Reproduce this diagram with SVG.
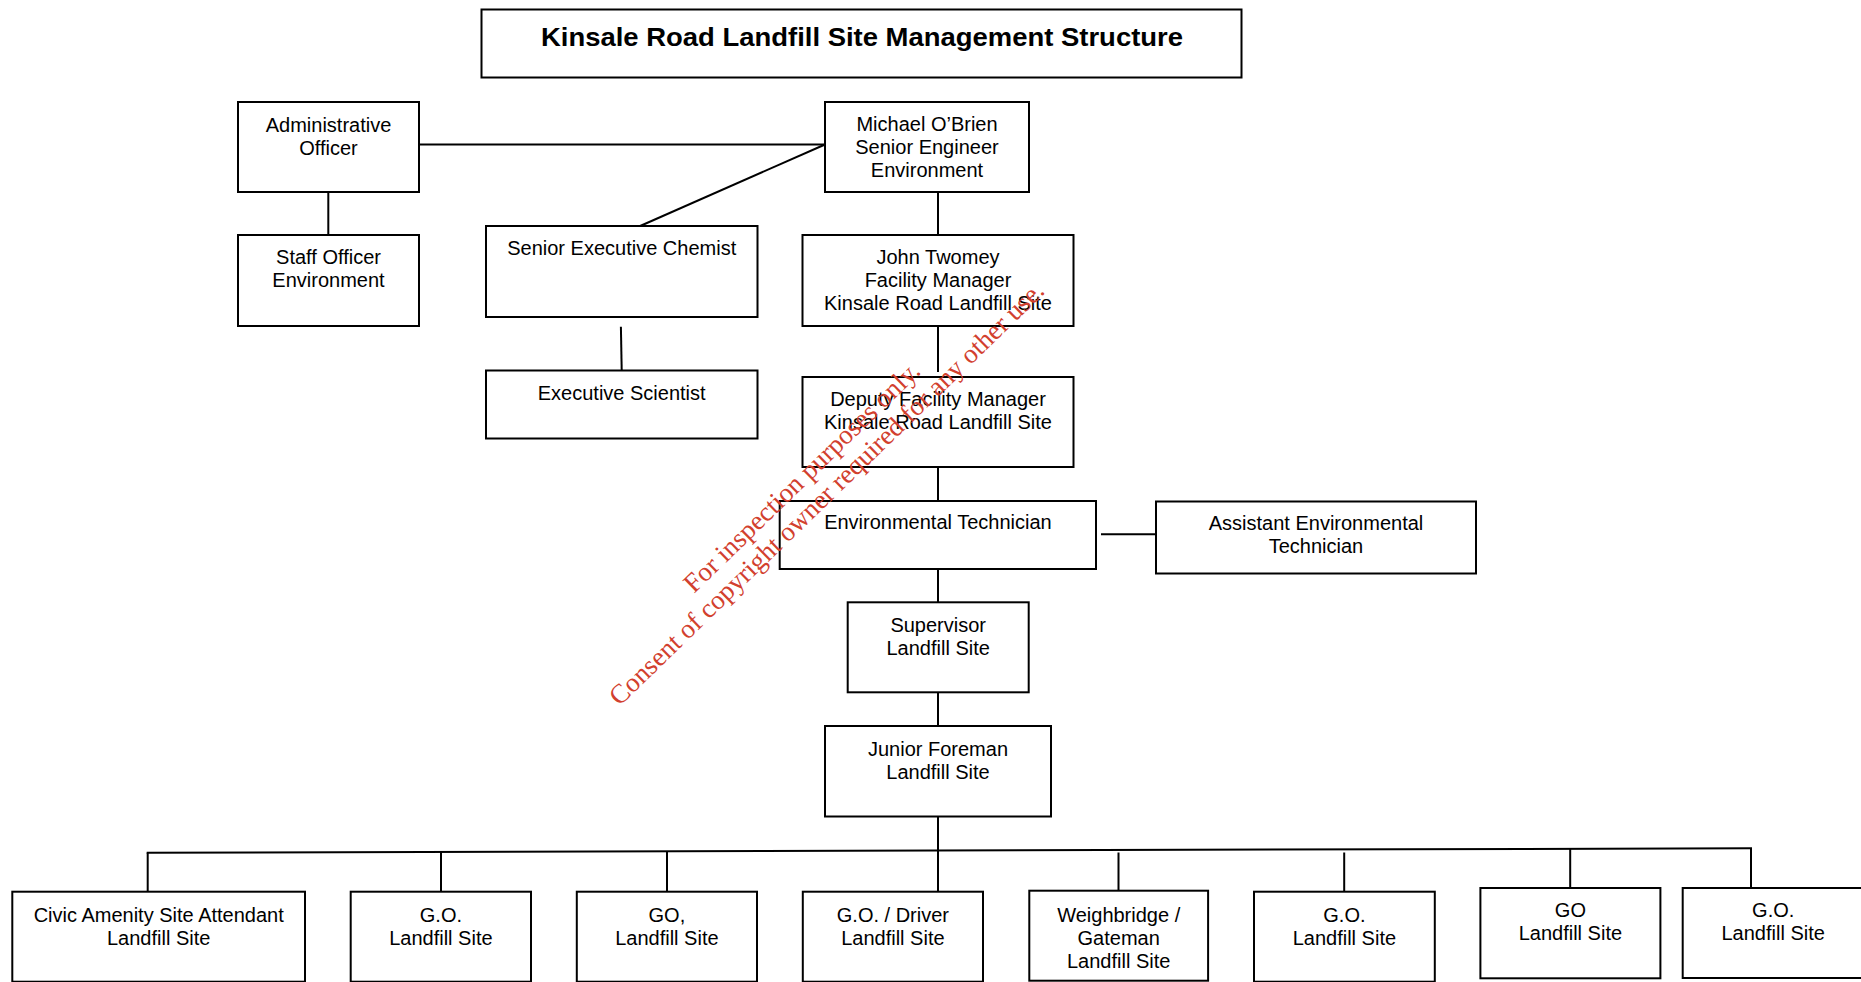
<svg xmlns="http://www.w3.org/2000/svg" width="1861" height="982" viewBox="0 0 1861 982">
<style>
.box{fill:#fff;stroke:#000;stroke-width:2}
.t{font-family:"Liberation Sans",Arial,sans-serif;font-size:20px;fill:#000;text-anchor:middle}
.title{font-family:"Liberation Sans",Arial,sans-serif;font-size:26px;font-weight:bold;fill:#000;text-anchor:middle}
.c line{stroke:#000;stroke-width:2}
.wm{font-family:"Liberation Serif","Times New Roman",serif;font-size:27px;fill:#d2402e}
</style>
<rect width="1861" height="982" fill="#fff"/>
<g id="title">
<rect class="box" x="481.5" y="9.5" width="760" height="68"/>
<text class="title" x="862" y="46" textLength="642" lengthAdjust="spacingAndGlyphs">Kinsale Road Landfill Site Management Structure</text>
</g>
<g class="c" id="connectors">
<line x1="419" y1="144.5" x2="825" y2="144.5"/>
<line x1="825" y1="144.5" x2="622" y2="234"/>
<line x1="328.3" y1="192" x2="328.3" y2="235"/>
<line x1="938" y1="192" x2="938" y2="240"/>
<line x1="620.9" y1="326.7" x2="621.7" y2="370.5"/>
<line x1="938" y1="326" x2="938" y2="372"/>
<line x1="938" y1="458.3" x2="938" y2="504"/>
<line x1="1101" y1="534.3" x2="1156" y2="534.3"/>
<line x1="938" y1="562.7" x2="938" y2="608.3"/>
<line x1="938" y1="686.7" x2="938" y2="731.7"/>
<line x1="938" y1="810.7" x2="938" y2="898.3"/>
<line x1="146.7" y1="852.7" x2="1752" y2="848.3"/>
<line x1="147.7" y1="852.7" x2="147.7" y2="898"/>
<line x1="441" y1="852" x2="441" y2="898.3"/>
<line x1="667" y1="851.5" x2="667" y2="898.3"/>
<line x1="1118.5" y1="852.5" x2="1118.5" y2="898.3"/>
<line x1="1344.2" y1="852.5" x2="1344.2" y2="898.3"/>
<line x1="1570.2" y1="849" x2="1570.2" y2="894"/>
<line x1="1751" y1="848.3" x2="1751" y2="894"/>
</g>
<g id="admin">
<rect class="box" x="238" y="102" width="181" height="90"/>
<text class="t" x="328.5" y="131.5">Administrative</text>
<text class="t" x="328.5" y="154.5">Officer</text>
</g>
<g id="staff">
<rect class="box" x="238" y="235" width="181" height="91"/>
<text class="t" x="328.5" y="263.5">Staff Officer</text>
<text class="t" x="328.5" y="286.5">Environment</text>
</g>
<g id="michael">
<rect class="box" x="825" y="102" width="204" height="90"/>
<text class="t" x="927" y="131">Michael O’Brien</text>
<text class="t" x="927" y="154">Senior Engineer</text>
<text class="t" x="927" y="177">Environment</text>
</g>
<g id="chemist">
<rect class="box" x="486" y="226" width="271.5" height="91"/>
<text class="t" x="621.7" y="255">Senior Executive Chemist</text>
</g>
<g id="john">
<rect class="box" x="802.5" y="235" width="271" height="91"/>
<text class="t" x="938" y="264.3">John Twomey</text>
<text class="t" x="938" y="287.3">Facility Manager</text>
<text class="t" x="938" y="310.3">Kinsale Road Landfill Site</text>
</g>
<g id="scientist">
<rect class="box" x="486" y="370.5" width="271.5" height="68"/>
<text class="t" x="621.7" y="400">Executive Scientist</text>
</g>
<g id="deputy">
<rect class="box" x="802.5" y="377" width="271" height="90"/>
<text class="t" x="938" y="406">Deputy Facility Manager</text>
<text class="t" x="938" y="429">Kinsale Road Landfill Site</text>
</g>
<g id="envtech">
<rect class="box" x="779.7" y="501" width="316.3" height="68"/>
<text class="t" x="937.9" y="529.3">Environmental Technician</text>
</g>
<g id="assistant">
<rect class="box" x="1156" y="501.5" width="320" height="72"/>
<text class="t" x="1316" y="530">Assistant Environmental</text>
<text class="t" x="1316" y="553">Technician</text>
</g>
<g id="supervisor">
<rect class="box" x="847.7" y="602.3" width="181" height="90"/>
<text class="t" x="938.2" y="631.7">Supervisor</text>
<text class="t" x="938.2" y="654.7">Landfill Site</text>
</g>
<g id="junior">
<rect class="box" x="825" y="726" width="226" height="90.5"/>
<text class="t" x="938" y="755.7">Junior Foreman</text>
<text class="t" x="938" y="778.7">Landfill Site</text>
</g>
<g id="civic">
<rect class="box" x="12.3" y="891.7" width="292.7" height="90"/>
<text class="t" x="158.7" y="921.7">Civic Amenity Site Attendant</text>
<text class="t" x="158.7" y="944.7">Landfill Site</text>
</g>
<g id="go1">
<rect class="box" x="350.7" y="891.7" width="180.3" height="90"/>
<text class="t" x="440.9" y="921.7">G.O.</text>
<text class="t" x="440.9" y="944.7">Landfill Site</text>
</g>
<g id="go-comma">
<rect class="box" x="576.8" y="891.7" width="180.2" height="90"/>
<text class="t" x="666.9" y="921.7">GO,</text>
<text class="t" x="666.9" y="944.7">Landfill Site</text>
</g>
<g id="driver">
<rect class="box" x="802.8" y="891.7" width="180.2" height="90"/>
<text class="t" x="892.9" y="921.7">G.O. / Driver</text>
<text class="t" x="892.9" y="944.7">Landfill Site</text>
</g>
<g id="weighbridge">
<rect class="box" x="1029.3" y="890.7" width="178.8" height="90"/>
<text class="t" x="1118.7" y="921.7">Weighbridge /</text>
<text class="t" x="1118.7" y="944.7">Gateman</text>
<text class="t" x="1118.7" y="967.7">Landfill Site</text>
</g>
<g id="go2">
<rect class="box" x="1254" y="891.7" width="180.8" height="90"/>
<text class="t" x="1344.4" y="921.7">G.O.</text>
<text class="t" x="1344.4" y="944.7">Landfill Site</text>
</g>
<g id="go">
<rect class="box" x="1480.4" y="888" width="180" height="90.3"/>
<text class="t" x="1570.4" y="916.7">GO</text>
<text class="t" x="1570.4" y="939.7">Landfill Site</text>
</g>
<g id="go3">
<rect class="box" x="1682.7" y="888" width="181" height="90"/>
<text class="t" x="1773.2" y="916.7">G.O.</text>
<text class="t" x="1773.2" y="939.7">Landfill Site</text>
</g>
<g id="watermark" transform="translate(694,594) rotate(-44.2)">
<text class="wm" x="0" y="0">For inspection purposes only.</text>
<text class="wm" x="-132" y="29">Consent of copyright owner required for any other use.</text>
</g>
</svg>
